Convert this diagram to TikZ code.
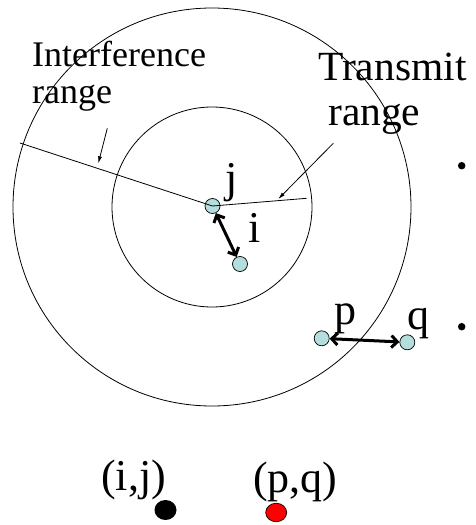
\documentclass[tikz,border=0pt]{standalone}
\usepackage{fontspec}
\setmainfont{Liberation Serif}
\usetikzlibrary{arrows.meta,shapes.geometric}
\definecolor{nodeblue}{RGB}{180,222,222}
\definecolor{dotred}{RGB}{255,0,0}
\begin{document}
\begin{tikzpicture}[x=1pt,y=-1pt,
  lbl/.style={anchor=base west,inner sep=0pt,font=\fontsize{44}{48}\selectfont},
  rangelbl/.style={anchor=base west,inner sep=0pt},
  station/.style={circle,draw=black,line width=0.7pt,fill=nodeblue,minimum size=15pt,inner sep=0pt},
  ring/.style={circle,draw=black,line width=0.8pt,inner sep=0pt},
  radiusline/.style={draw=black,line width=0.8pt},
  pointer/.style={draw=black,line width=0.8pt,-{Latex[length=7pt,width=4pt]}},
  link/.style={draw=black,line width=3pt,{Straight Barb[length=6pt,width=12pt]}-{Straight Barb[length=6pt,width=12pt]}},
  bulletdot/.style={circle,fill=black,minimum size=7.5pt,inner sep=0pt},
]
\useasboundingbox (0,0) rectangle (476,525);

% range circles
\node[ring,minimum size=398pt] (outer) at (212,207) {};
\node[ring,minimum size=200pt] (inner) at (212,207) {};

% stations
\node[station] (j) at (212.5,206) {};
\node[station] (i) at (240,264) {};
\node[station] (p) at (321.7,338.3) {};
\node[station] (q) at (407.3,342.3) {};

% radius lines
\coordinate (iedge) at (20,143);
\coordinate (tedge) at (306.7,198.3);
\draw[radiusline] (iedge) -- (j.center);
\draw[radiusline] (j.center) -- (tedge);

% range labels
\node[rangelbl,font=\fontsize{36}{40}\selectfont] (interf) at (32,66) {Interference};
\node[rangelbl,font=\fontsize{36}{40}\selectfont] (irange) at (32,103) {range};
\node[rangelbl,font=\fontsize{41.5}{45}\selectfont] (transm) at (318,80) {Transmit};
\node[rangelbl,font=\fontsize{41.5}{45}\selectfont] (trange) at (328,125) {range};

% pointers
\coordinate (ip1) at (107.3,128.3);
\coordinate (ip2) at (98.3,163.3);
\coordinate (tp1) at (333.3,143.3);
\coordinate (tp2) at (278.3,199);
\draw[pointer] (ip1) -- (ip2);
\draw[pointer] (tp1) -- (tp2);

% links
\draw[link] (j) -- (i);
\draw[link] (p) -- (q);

% station labels
\node[lbl] (jl) at (225,192) {j};
\node[lbl] (il) at (248,242) {i};
\node[lbl] (pl) at (334,324) {p};
\node[lbl] (ql) at (407,329) {q};

% bullets
\node[bulletdot] (b1) at (461.7,165.7) {};
\node[bulletdot] (b2) at (461.7,326.7) {};

% legend
\node[lbl] (ijl) at (101,490) {(i,j)};
\node[lbl] (pql) at (253,492) {(p,q)};
\node[ellipse,fill=black,minimum width=22pt,minimum height=20pt,inner sep=0pt] (bd) at (165.5,510) {};
\node[ellipse,fill=dotred,draw=black,line width=0.7pt,minimum width=21pt,minimum height=18.5pt,inner sep=0pt] (rd) at (276.2,512.5) {};
\end{tikzpicture}
\end{document}
